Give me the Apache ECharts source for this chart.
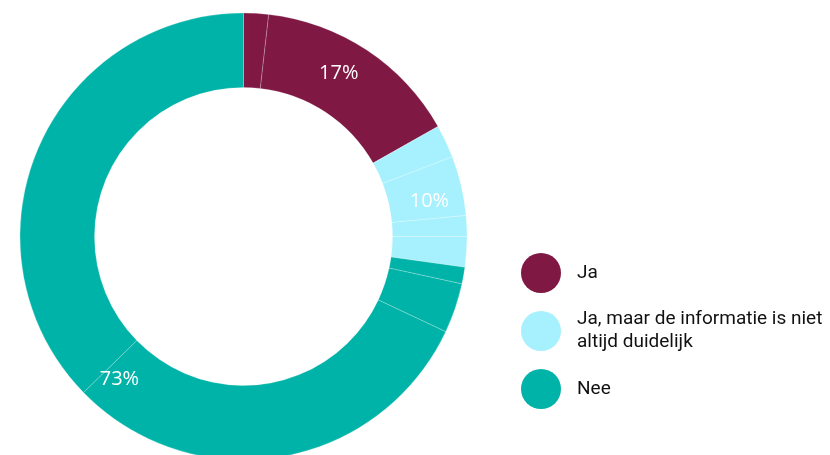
<!DOCTYPE html>
<html>
<head>
<meta charset="utf-8">
<script src="https://cdn.jsdelivr.net/npm/echarts@6/dist/echarts.min.js"></script>
<style>
  html, body { margin: 0; padding: 0; background: #fff; }
  #chart { width: 830px; height: 455px; }
</style>
</head>
<body>
<div id="chart"></div>
<script>
const categories = ['Ja', 'Ja, maar de informatie is niet altijd duidelijk', 'Nee'];
const colors = ['#7f1843', '#a6f1fd', '#00b3a8'];
// sub-groups per answer, share of all respondents (%)
const jaParts = [1.8, 15.0];
const jaMaarParts = [2.4, 4.3, 1.5, 2.2];
const neeParts = [1.2, 3.6, 30.7, 37.3];

const parts = [jaParts, jaMaarParts, neeParts];
const sum = arr => arr.reduce((a, b) => a + b, 0);

const subData = [];
parts.forEach((list, i) => {
  list.forEach((v, j) => {
    subData.push({ name: 'deel ' + i + '-' + j, value: v, itemStyle: { color: colors[i] } });
  });
});
const totalData = categories.map((c, i) => ({ name: c, value: sum(parts[i]) }));

const center = [243.5, 236.5];
// the "Nee" label sits a bit before the middle of its slice in the original
const labelShift = [0, 0, -8];

const chart = echarts.init(document.getElementById('chart'));

const option = {
  animation: false,
  color: colors,
  legend: {
    orient: 'vertical',
    left: 516,
    top: 248,
    icon: 'circle',
    itemWidth: 40,
    itemHeight: 40,
    itemGap: 15,
    data: categories.map((c, i) => ({ name: c, itemStyle: { color: colors[i], opacity: 1 } })),
    textStyle: {
      fontFamily: 'Roboto',
      fontSize: 19,
      color: '#111',
      lineHeight: 23,
      width: 255,
      overflow: 'break',
      padding: [0, 0, 0, 11]
    }
  },
  series: [
    {
      type: 'pie',
      center: center,
      radius: [149, 223.5],
      startAngle: 90,
      silent: true,
      label: { show: false },
      labelLine: { show: false },
      itemStyle: { borderColor: 'rgba(255,255,255,0.45)', borderWidth: 0.5 },
      data: subData
    },
    {
      type: 'pie',
      center: center,
      radius: [149, 223.5],
      startAngle: 90,
      silent: true,
      percentPrecision: 0,
      itemStyle: { color: 'rgba(0,0,0,0)' },
      label: {
        show: true,
        position: 'inside',
        formatter: '{d}%',
        color: '#fff',
        fontFamily: 'Open Sans',
        fontSize: 20
      },
      labelLine: { show: false },
      labelLayout: function (params) {
        const deg = labelShift[params.dataIndex];
        if (!deg) return {};
        const r = params.labelRect;
        const mx = r.x + r.width / 2 - center[0];
        const my = r.y + r.height / 2 - center[1];
        const a = deg * Math.PI / 180;
        const nx = mx * Math.cos(a) - my * Math.sin(a);
        const ny = mx * Math.sin(a) + my * Math.cos(a);
        return { x: center[0] + nx, y: center[1] + ny, align: 'center', verticalAlign: 'middle' };
      },
      data: totalData
    }
  ]
};

chart.setOption(option);
</script>
</body>
</html>
